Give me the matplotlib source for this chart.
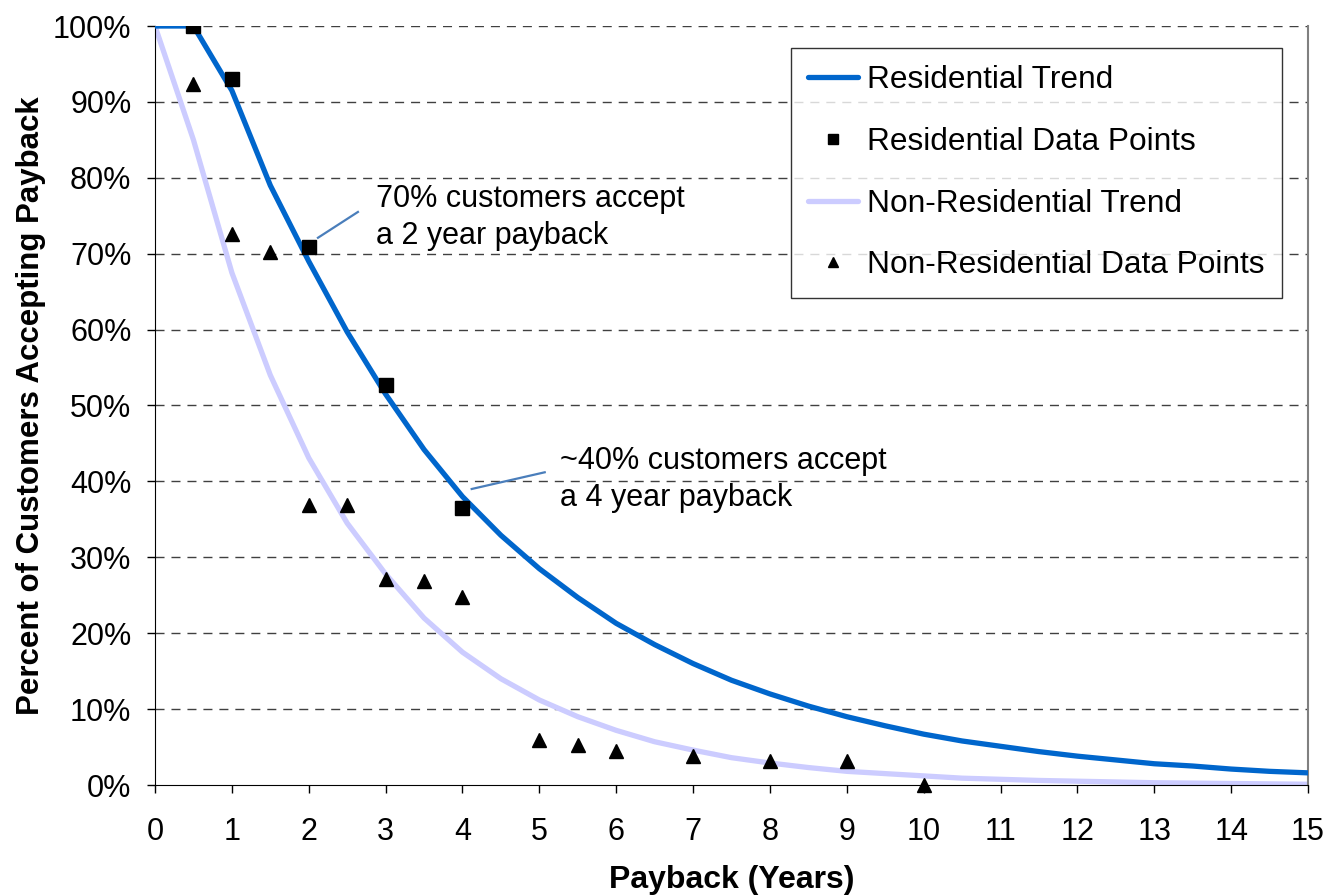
import numpy as np
import matplotlib
matplotlib.use("Agg")
import matplotlib.pyplot as plt
from matplotlib.ticker import PercentFormatter

plt.rcParams["font.family"] = ["Liberation Sans", "DejaVu Sans"]

# trend curves, read at half-year steps
trend_years = [0, 0.5, 1, 1.5, 2, 2.5, 3, 3.5, 4, 4.5, 5, 5.5, 6, 6.5, 7, 7.5,
               8, 8.5, 9, 9.5, 10, 10.5, 11, 11.5, 12, 12.5, 13, 13.5, 14, 14.5, 15]
res_trend = [100, 100, 91.5, 79, 69, 59.7, 51.5, 44.2, 38, 32.9, 28.5, 24.7, 21.3,
             18.5, 16, 13.8, 12, 10.4, 9, 7.8, 6.7, 5.8, 5.1, 4.4, 3.8, 3.3, 2.8,
             2.5, 2.1, 1.8, 1.6]
nonres_trend = [100, 85, 67.5, 54, 43.1, 34.5, 27.8, 22, 17.5, 14, 11.2, 9, 7.2,
                5.7, 4.6, 3.6, 2.9, 2.3, 1.8, 1.5, 1.2, 0.9, 0.75, 0.6, 0.5, 0.4,
                0.3, 0.25, 0.2, 0.15, 0.1]

# survey points
res_years = [0.5, 1, 2, 3, 4]
res_pts = [100, 93.0, 70.9, 52.7, 36.5]
nonres_years = [0.5, 1, 1.5, 2, 2.5, 3, 3.5, 4, 5, 5.5, 6, 7, 8, 9, 10]
nonres_pts = [92.4, 72.6, 70.2, 36.9, 36.9, 27.2, 26.9, 24.8, 5.9, 5.3, 4.5, 3.8,
              3.2, 3.2, 0.0]

fig = plt.figure(figsize=(13.29, 8.96), dpi=100)
ax = fig.add_axes([155 / 1329, 1 - 785 / 896, 1153 / 1329, 759 / 896])

ax.plot(trend_years, res_trend, color="#0066CC", lw=3.8, label="Residential Trend",
        zorder=3, solid_capstyle="round")
ax.plot(res_years, res_pts, ls="none", marker="s", ms=10, color="black",
        label="Residential Data Points", zorder=4)
ax.plot(trend_years, nonres_trend, color="#CCCCFF", lw=3.8,
        label="Non-Residential Trend", zorder=2, solid_capstyle="round")
ax.plot(nonres_years, nonres_pts, ls="none", marker="^", ms=10, color="black",
        label="Non-Residential Data Points", zorder=4, clip_on=False)

ax.set_xlim(0, 15)
ax.set_ylim(0, 100)
ax.set_xticks(range(0, 16))
ax.set_yticks(range(0, 101, 10))
ax.yaxis.set_major_formatter(PercentFormatter(decimals=0))
ax.tick_params(labelsize=22, length=6, width=1, color="black")
ax.tick_params(axis="y", pad=11)
ax.tick_params(axis="x", pad=17)

for y in range(10, 101, 10):
    ax.axhline(y, color="#404040", lw=1, dashes=(6.5, 5), zorder=1)

ax.spines["top"].set_visible(False)
ax.spines["right"].set_color("#808080")
ax.spines["right"].set_linewidth(1.5)

ax.set_xlabel("Payback (Years)", fontsize=23, fontweight="bold", labelpad=13)
ax.set_ylabel("Percent of Customers Accepting Payback", fontsize=22.5,
              fontweight="bold", labelpad=5)

# annotations
ax.plot([2.12, 2.64], [72.1, 75.5], color="#4A7EBB", lw=1.6, zorder=3)
ax.text(2.875, 74.8, "70% customers accept\na 2 year payback", fontsize=22,
        va="center", ha="left", linespacing=1.3)
ax.plot([4.12, 5.07], [39.0, 41.2], color="#4A7EBB", lw=1.6, zorder=3)
ax.text(5.27, 40.2, "~40% customers accept\na 4 year payback", fontsize=22,
        va="center", ha="left", linespacing=1.3)

leg = ax.legend(loc="upper right",
                bbox_to_anchor=((1282 - 155) / 1153, (785 - 48) / 759),
                borderaxespad=0, fontsize=22.8, frameon=True, fancybox=False,
                edgecolor="black", handlelength=1.55, handletextpad=0.3,
                labelspacing=1.0, borderpad=0.55, markerscale=0.7)
leg.get_frame().set_linewidth(1)

fig.savefig("out.png", dpi=100)
